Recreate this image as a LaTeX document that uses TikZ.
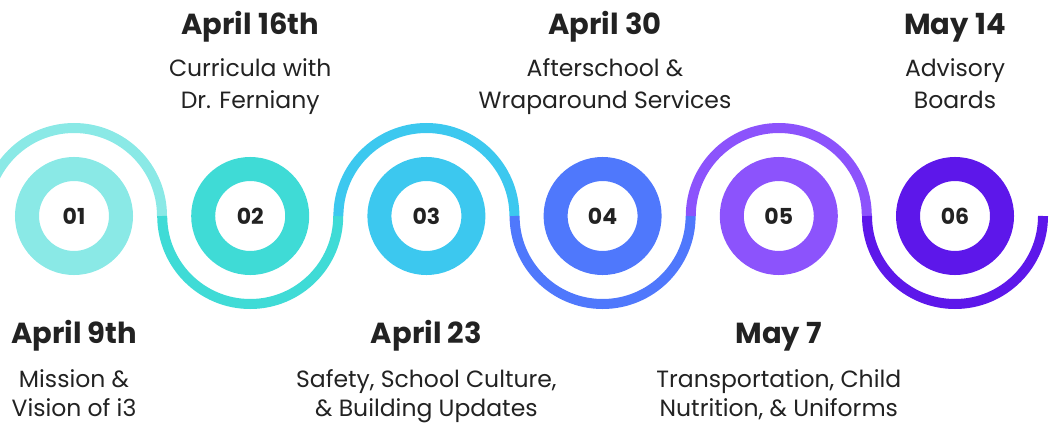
\documentclass[tikz,border=0pt]{standalone}
\usepackage{fontspec}
\setmainfont{Poppins}
\definecolor{cA}{HTML}{8AE9E6}
\definecolor{cB}{HTML}{3FDBD6}
\definecolor{cC}{HTML}{3CC8EF}
\definecolor{cD}{HTML}{4F78FC}
\definecolor{cE}{HTML}{8C53FC}
\definecolor{cF}{HTML}{5D17EA}
\definecolor{ink}{HTML}{222222}
\tikzset{
  x=1pt, y=1pt,
  ring/.style={line width=24pt},
  wave/.style={line width=10pt, line cap=butt},
  num/.style={font=\fontsize{22}{26}\selectfont\bfseries, text=ink},
  head/.style={font=\fontsize{29}{34}\selectfont\bfseries, text=ink, anchor=base},
  body/.style={font=\fontsize{23.5}{28}\selectfont, text=ink, anchor=base},
}
\begin{document}
\begin{tikzpicture}
\useasboundingbox (0,0) rectangle (1051,424);
\clip (0,0) rectangle (1051,424);
% centres at y = 208 (424-216)
\foreach \i/\cx/\col/\top in {1/74/cA/1,2/250.2/cB/0,3/426.4/cC/1,4/602.6/cD/0,5/778.8/cE/1,6/955/cF/0}{
  \draw[ring, \col] (\cx,208) circle[radius=47];
  \node[num] (n\i) at (\cx,208) {0\i};
  \ifnum\top=1
    \draw[wave, \col] (\cx-88,208) arc[start angle=180, end angle=0, radius=88];
  \else
    \draw[wave, \col] (\cx-88,208) arc[start angle=180, end angle=360, radius=88];
  \fi
}
% top labels
\node[head] (h2) at (250.2,389) {April 16th};
\node[body] (b2a) at (250.2,347) {Curricula with};
\node[body] (b2b) at (250.2,316) {Dr. Ferniany};
\node[head] (h4) at (605,389) {April 30};
\node[body] (b4a) at (605,347) {Afterschool \&};
\node[body] (b4b) at (605,316) {Wraparound Services};
\node[head] (h6) at (955,389) {May 14};
\node[body] (b6a) at (955,347) {Advisory};
\node[body] (b6b) at (955,316) {Boards};
% bottom labels
\node[head] (h1) at (74,81) {April 9th};
\node[body] (b1a) at (74,37) {Mission \&};
\node[body] (b1b) at (74,8) {Vision of i3};
\node[head] (h3) at (426.4,81) {April 23};
\node[body] (b3a) at (426.4,37) {Safety, School Culture,};
\node[body] (b3b) at (426.4,8) {\& Building Updates};
\node[head] (h5) at (778.8,81) {May 7};
\node[body] (b5a) at (778.8,37) {Transportation, Child};
\node[body] (b5b) at (778.8,8) {Nutrition, \& Uniforms};
\end{tikzpicture}
\end{document}
